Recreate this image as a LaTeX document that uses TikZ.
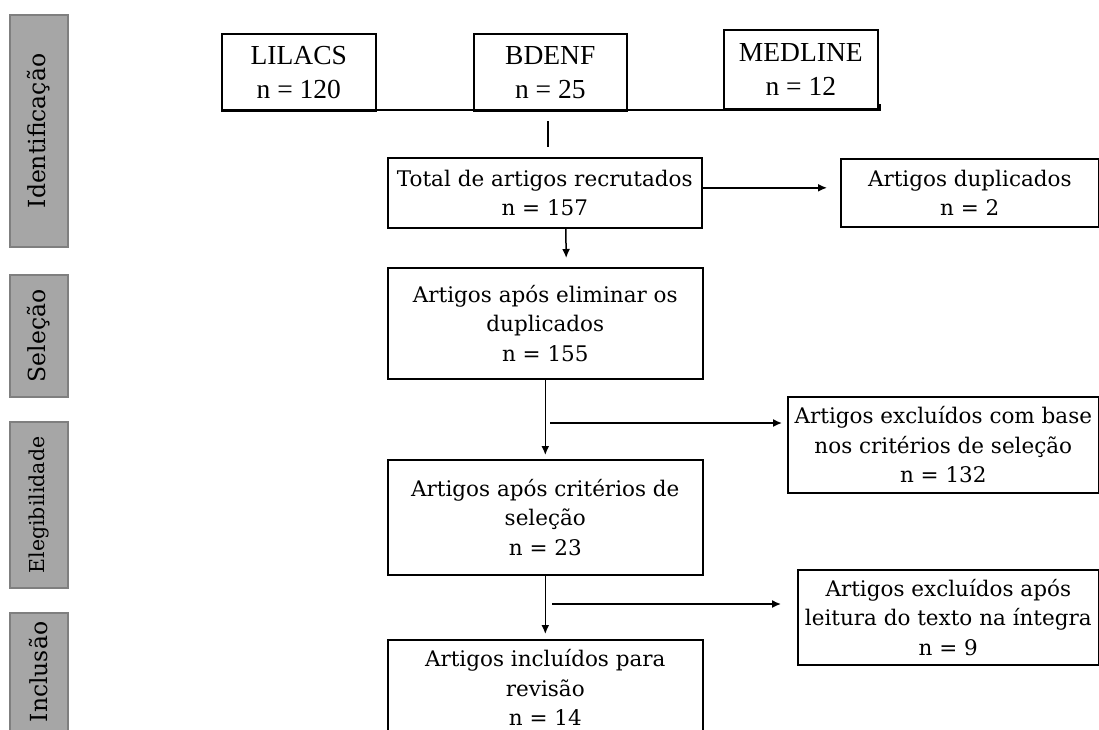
\documentclass[tikz,border=0pt]{standalone}
\usepackage{fontspec}
\setmainfont{DejaVu Serif}
\newfontfamily\tms{Liberation Serif}
\usetikzlibrary{arrows.meta}
\definecolor{lblfill}{HTML}{A6A6A6}
\definecolor{lbldraw}{HTML}{7F7F7F}
\tikzset{
  box/.style={draw=black, line width=1.6pt, fill=white, inner sep=0pt, align=center, anchor=north west, font=\fontsize{21.5}{29.5}\selectfont},
  dbbox/.style={box, font=\tms\fontsize{27.5}{34}\selectfont},
  stage/.style={draw=lbldraw, fill=lblfill, line width=1.2pt, rotate=90, inner sep=0pt, minimum height=58pt, font=\fontsize{23.5}{28}\selectfont},
  conn/.style={line width=1.5pt},
  arr/.style={conn, -{Latex[length=9pt,width=8pt]}},
}
\begin{document}
\begin{tikzpicture}[x=1pt,y=-1pt]
\useasboundingbox (0,0) rectangle (1099,729);
\clip (0,0) rectangle (1099,729);
% stage labels
\node[stage, minimum width=232pt] (s1) at (39,131) {Identificação};
\node[stage, minimum width=122pt] (s2) at (39,336) {Seleção};
\node[stage, minimum width=166pt, font=\fontsize{20.5}{24}\selectfont] (s3) at (39,505) {Elegibilidade};
\node[stage, minimum width=118pt] (s4) at (39,672) {Inclusão};
% databases
\node[dbbox, minimum width=154pt, minimum height=77pt] (lil) at (221,33) {LILACS\\n = 120};
\node[dbbox, minimum width=153pt, minimum height=77pt] (bde) at (473,33) {BDENF\\n = 25};
\node[dbbox, minimum width=154pt, minimum height=79pt] (med) at (723,29) {MEDLINE\\n = 12};
\coordinate (bl) at (221,110);
\coordinate (br) at (880,110);
\draw[line width=2pt] (bl) -- (br) -- ++(0,-6);
\coordinate (t1) at (548,121);
\coordinate (t2) at (548,147);
\draw[conn] (t1) -- (t2);
% main flow
\node[box, minimum width=314pt, minimum height=70pt] (tot) at (387,157) {Total de artigos recrutados\\n = 157};
\node[box, minimum width=258pt, minimum height=68pt] (dup) at (840,158) {Artigos duplicados\\n = 2};
\node[box, minimum width=315pt, minimum height=111pt] (elim) at (387,267) {Artigos após eliminar os\\duplicados\\n = 155};
\node[box, minimum width=311pt, minimum height=96pt] (ex1) at (787,396) {Artigos excluídos com base\\nos critérios de seleção\\n = 132};
\node[box, minimum width=315pt, minimum height=115pt] (crit) at (387,459) {Artigos após critérios de\\seleção\\n = 23};
\node[box, minimum width=301pt, minimum height=95pt] (ex2) at (797,569) {Artigos excluídos após\\leitura do texto na íntegra\\n = 9};
\node[box, minimum width=315pt, minimum height=96pt] (incl) at (387,639) {Artigos incluídos para\\revisão\\n = 14};
% connectors
\draw[arr, shorten >=13pt] ([yshift=5pt]tot.east) -- ([yshift=5pt]dup.west);
\draw[arr, shorten >=9pt] ([xshift=21pt]tot.south) -- ([xshift=21pt]elim.north);
\draw[arr, shorten >=4pt] (elim.south) -- (crit.north);
\coordinate (b1) at (550,423);
\draw[arr, shorten >=5pt] (b1) -- (b1 -| ex1.west);
\draw[arr, shorten >=5pt] (crit.south) -- (incl.north);
\coordinate (b2) at (552,604);
\draw[arr, shorten >=16pt] (b2) -- (b2 -| ex2.west);
\end{tikzpicture}
\end{document}
